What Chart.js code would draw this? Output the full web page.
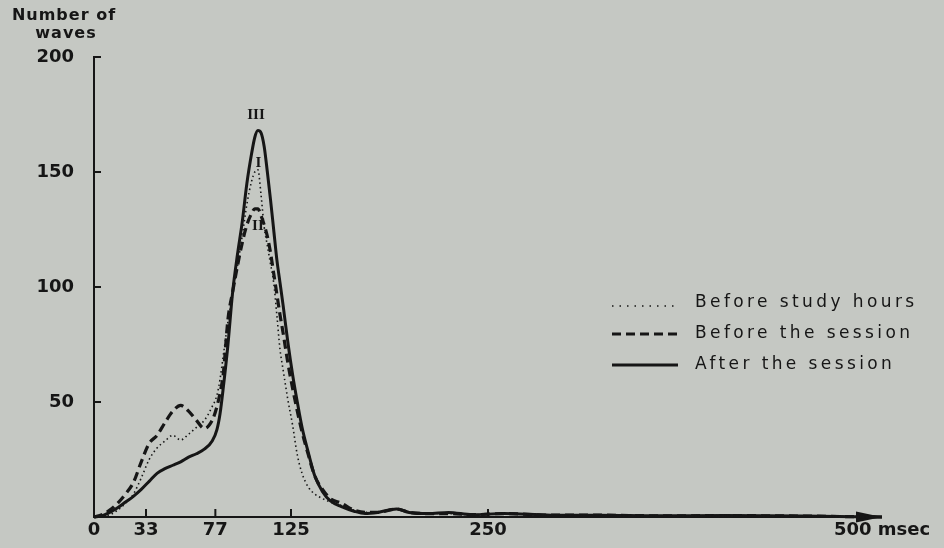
<!DOCTYPE html>
<html>
<head>
<meta charset="utf-8">
<script src="https://cdn.jsdelivr.net/npm/chart.js@4.4.1/dist/chart.umd.min.js"></script>
<style>
	html, body { margin: 0; padding: 0; background: #c5c8c3; }
	canvas { display: block; }
</style>
</head>
<body>
<canvas id="waves_chart" width="944" height="548"></canvas>
<script>
// valeurs (ms / nombre d'ondes)
const msec = [0, 5, 10, 15, 20, 25, 30, 35, 40, 45, 50, 55, 60, 65, 70, 75, 78, 80, 82, 85, 88, 91, 94, 97, 100, 102, 104, 106, 108, 110, 112, 114, 116, 118, 120, 123, 126, 129, 132, 136, 140, 145, 150, 157, 165, 172, 180, 192, 200, 212, 225, 240, 260, 290, 320, 360, 400, 450, 500];
const beforeStudy = [0, 0.5, 1, 3, 6, 10, 17, 25, 30, 33, 35.5, 33.5, 36, 39, 42, 48, 53, 60, 70, 85, 97, 109, 122, 136, 146, 150, 151, 140, 126, 118, 110, 102, 88, 73, 64, 51, 40, 27, 19, 13, 10, 8, 6.5, 5, 3, 2, 2, 3.5, 2, 1.5, 1.5, 1, 1.5, 0.8, 0.8, 0.5, 0.6, 0.4, 0];
const beforeSession = [0, 1, 3, 6, 10, 15, 24, 32, 35.5, 41, 46, 48.5, 46, 42, 38.5, 42, 48, 54, 62, 86, 98, 109, 119, 127, 132, 134, 134, 131, 127, 122, 115, 106, 97, 88, 80, 67, 56, 46, 37, 27, 18, 12, 8, 6, 3, 2, 2, 3.5, 2, 1.5, 1.5, 1, 1.5, 0.8, 0.8, 0.5, 0.6, 0.4, 0];
const afterSession = [0, 0.5, 2, 4, 6.5, 9, 12, 15.5, 19, 21, 22.5, 24, 26, 27.5, 29.5, 33, 38, 45, 56, 75, 98, 114, 128, 145, 158, 165, 168, 167, 161, 150, 138, 125, 112, 102, 92, 76, 62, 50, 39, 28, 18, 11, 7, 4.5, 2.5, 1.5, 2, 3.5, 2, 1.5, 2, 1, 1.5, 0.8, 0.8, 0.5, 0.6, 0.4, 0];
const seriesNames = ['Before study hours', 'Before the session', 'After the session'];
const xTickValues = [0, 33, 77, 125, 250, 500];
const yTickValues = [50, 100, 150, 200];
const peakMarks = ['I', 'II', 'III'];
const peakMarkX = [104.4, 104, 102.8];
const peakMarkY = [153.7, 126.5, 174.8];

const ink = '#161616';

function toPoints(values)
{
	return msec.map((ms, i) => ({x: ms, y: values[i]}));
}

const paperAxes = {
	id: 'paperAxes',
	beforeDatasetsDraw(chart)
	{
		const ctx = chart.ctx;
		const x = chart.scales.x;
		const y = chart.scales.y;
		const x0 = x.getPixelForValue(0);
		const y0 = y.getPixelForValue(0);
		const yTop = y.getPixelForValue(200);
		const xEnd = x.getPixelForValue(500);

		ctx.save();
		ctx.strokeStyle = ink;
		ctx.fillStyle = ink;
		ctx.lineWidth = 2;
		ctx.beginPath();
		ctx.moveTo(x0 + 7, yTop);
		ctx.lineTo(x0, yTop);
		ctx.lineTo(x0, y0);
		ctx.lineTo(xEnd - 20, y0);
		yTickValues.slice(0, -1).forEach(v => {
			const py = y.getPixelForValue(v);
			ctx.moveTo(x0, py);
			ctx.lineTo(x0 + 7, py);
		});
		xTickValues.slice(1, -1).forEach(v => {
			const px = x.getPixelForValue(v);
			ctx.moveTo(px, y0);
			ctx.lineTo(px, y0 - 8);
		});
		ctx.stroke();

		// fleche au bout de l'axe des x
		ctx.beginPath();
		ctx.moveTo(xEnd, y0);
		ctx.lineTo(xEnd - 26, y0 - 5.5);
		ctx.lineTo(xEnd - 26, y0 + 5.5);
		ctx.closePath();
		ctx.fill();
		ctx.restore();
	},
	afterDraw(chart)
	{
		const ctx = chart.ctx;
		const x = chart.scales.x;
		const y = chart.scales.y;

		ctx.save();
		ctx.fillStyle = ink;

		// titre de l'axe y
		ctx.font = 'bold 16px "DejaVu Sans"';
		ctx.letterSpacing = '1px';
		ctx.textAlign = 'center';
		ctx.textBaseline = 'alphabetic';
		ctx.fillText('Number of', 64, 20);
		ctx.fillText('waves', 66, 38);

		// I, II, III
		ctx.letterSpacing = '0px';
		ctx.font = 'bold 15px "Liberation Serif"';
		ctx.textBaseline = 'middle';
		peakMarks.forEach((mark, i) => {
			ctx.fillText(mark, x.getPixelForValue(peakMarkX[i]), y.getPixelForValue(peakMarkY[i]));
		});

		// legende faite a la main
		const rows = [303, 334, 365];
		ctx.textAlign = 'left';
		ctx.font = '17px "DejaVu Sans"';
		ctx.letterSpacing = '3.4px';
		chart.data.datasets.forEach((ds, i) => {
			ctx.strokeStyle = ink;
			ctx.lineWidth = ds.borderWidth;
			ctx.setLineDash(i === 0 ? [1.5, 6] : (ds.borderDash || []));
			ctx.beginPath();
			ctx.moveTo(612, rows[i] + (i === 0 ? 3 : 0));
			ctx.lineTo(678, rows[i] + (i === 0 ? 3 : 0));
			ctx.stroke();
			ctx.fillText(ds.label, 695, rows[i]);
		});
		ctx.restore();
	}
};

const config = {
	type: 'line',
	data: {
		datasets: [
			{
				label: seriesNames[0],
				data: toPoints(beforeStudy),
				borderColor: ink,
				borderWidth: 1.6,
				borderDash: [1.5, 3],
				pointRadius: 0,
				cubicInterpolationMode: 'monotone',
				clip: 8
			},
			{
				label: seriesNames[1],
				data: toPoints(beforeSession),
				borderColor: ink,
				borderWidth: 3.2,
				borderDash: [9, 5],
				pointRadius: 0,
				cubicInterpolationMode: 'monotone',
				clip: 8
			},
			{
				label: seriesNames[2],
				data: toPoints(afterSession),
				borderColor: ink,
				borderWidth: 3,
				borderDash: [],
				pointRadius: 0,
				cubicInterpolationMode: 'monotone',
				clip: 8
			}
		]
	},
	options: {
		responsive: false,
		animation: false,
		layout: {
			padding: {top: 57, right: 62, left: 0, bottom: 0}
		},
		plugins: {
			legend: {display: false},
			tooltip: {enabled: false}
		},
		scales: {
			x: {
				type: 'linear',
				min: 0,
				max: 500,
				grid: {display: false, drawTicks: false},
				border: {display: false},
				afterBuildTicks: scale => { scale.ticks = xTickValues.map(v => ({value: v})); },
				afterFit: scale => { scale.height = 31; },
				ticks: {
					color: ink,
					padding: 3,
					maxRotation: 0,
					autoSkip: false,
					font: {family: '"DejaVu Sans"', size: 18, weight: 'bold'},
					callback: value => value === 500 ? '500 msec' : String(value)
				}
			},
			y: {
				min: 0,
				max: 200,
				grid: {display: false, drawTicks: false},
				border: {display: false},
				afterBuildTicks: scale => { scale.ticks = yTickValues.map(v => ({value: v})); },
				afterFit: scale => { scale.width = 94; },
				ticks: {
					color: ink,
					padding: 20,
					font: {family: '"DejaVu Sans"', size: 18, weight: 'bold'}
				}
			}
		}
	},
	plugins: [paperAxes]
};

const ctx = document.getElementById('waves_chart').getContext('2d');
new Chart(ctx, config);
</script>
</body>
</html>
